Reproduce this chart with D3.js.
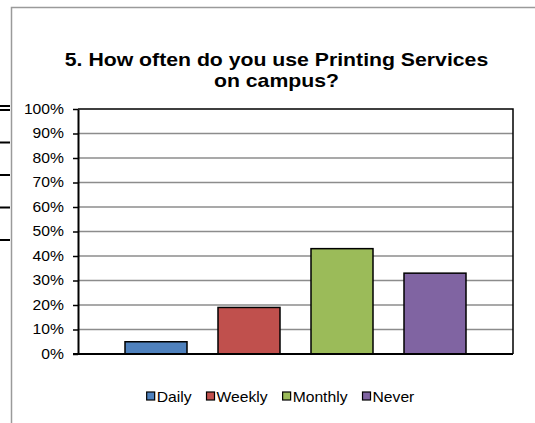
<!DOCTYPE html>
<html>
<head>
<meta charset="utf-8">
<script src="https://cdn.jsdelivr.net/npm/d3@7"></script>
<style>
  html, body { margin: 0; padding: 0; background: #fff; }
  svg { display: block; }
  text { font-family: "Liberation Sans", Arial, sans-serif; fill: #000; }
</style>
</head>
<body>
<svg id="chart" width="535" height="423"></svg>
<script>
// ---- data ----
const categories = ["Daily", "Weekly", "Monthly", "Never"];
const values = [5, 19, 43, 33];
const colors = ["#4F81BD", "#C0504D", "#9BBB59", "#8064A2"];
const yTicks = [0, 10, 20, 30, 40, 50, 60, 70, 80, 90, 100];
const titleLines = ["5. How often do you use Printing Services", "on campus?"];
// gridline stubs of another chart partially hidden behind this one
const behindTicks = [0, 1, 2, 3, 4];

// ---- layout ----
const W = 535, H = 423;
const plot = { left: 78, right: 513, top: 109, bottom: 354 };

const svg = d3.select("#chart");
svg.append("rect").attr("width", W).attr("height", H).attr("fill", "#fff");

// stub lines from chart behind
const by = d3.scaleLinear().domain([0, 4]).range([110, 240]);
svg.append("g").selectAll("line").data(behindTicks).join("line")
  .attr("x1", 0).attr("x2", 10)
  .attr("y1", d => by(d)).attr("y2", d => by(d))
  .attr("stroke", "#000").attr("stroke-width", 2);
svg.append("line").attr("x1", 0).attr("x2", 10).attr("y1", 106).attr("y2", 106)
  .attr("stroke", "#000").attr("stroke-width", 2);

// chart area border (left + top visible)
svg.append("path")
  .attr("d", `M11.5,${H} V7.5 H${W}`)
  .attr("fill", "none").attr("stroke", "#9a9a9a").attr("stroke-width", 1.5);

function stext(g, x, y, str, opts = {}) {
  const s = opts.stretch || 1.12;
  const t = g.append("g").attr("transform", `translate(${x},${y}) scale(${s},1)`)
    .append("text").text(str)
    .attr("font-size", opts.size || 14)
    .attr("text-anchor", opts.anchor || "start");
  if (opts.bold) t.attr("font-weight", "bold");
  if (opts.baseline) t.attr("dominant-baseline", opts.baseline);
  return t;
}

// title
const titleG = svg.append("g");
const titleCx = 276.5;
stext(titleG, titleCx, 66, titleLines[0], { size: 18, stretch: 1.18, anchor: "middle", bold: true });
stext(titleG, titleCx, 87, titleLines[1], { size: 18, stretch: 1.18, anchor: "middle", bold: true });

// scales
const y = d3.scaleLinear().domain([0, 100]).range([plot.bottom, plot.top]);
const x = d3.scaleBand().domain(categories).range([109.5, 481.5])
  .paddingInner(1 / 3).paddingOuter(1 / 6);

// gridlines
svg.append("g").selectAll("line").data(yTicks.filter(d => d > 0 && d < 100)).join("line")
  .attr("x1", plot.left).attr("x2", plot.right)
  .attr("y1", d => y(d)).attr("y2", d => y(d))
  .attr("stroke", "#8c8c8c").attr("stroke-width", 1.5);

// plot frame (top + right)
svg.append("path")
  .attr("d", `M${plot.left},${plot.top} H${plot.right} V${plot.bottom}`)
  .attr("fill", "none").attr("stroke", "#000").attr("stroke-width", 1.5);

// bars
svg.append("g").selectAll("rect").data(values).join("rect")
  .attr("x", (d, i) => x(categories[i]))
  .attr("width", x.bandwidth())
  .attr("y", d => y(d))
  .attr("height", d => y(0) - y(d))
  .attr("fill", (d, i) => colors[i])
  .attr("stroke", "#000").attr("stroke-width", 1.5);

// y axis
const yAxis = svg.append("g").attr("transform", `translate(${plot.left},0)`)
  .call(d3.axisLeft(y).tickValues(yTicks).tickSize(5).tickSizeOuter(0).tickFormat(""));
yAxis.select(".domain").attr("stroke", "#000").attr("stroke-width", 2);
yAxis.selectAll(".tick line").attr("stroke", "#000").attr("stroke-width", 1.5);

const labG = svg.append("g");
yTicks.forEach(v => stext(labG, 64, y(v), v + "%", { anchor: "end", baseline: "central" }));

// x axis line
svg.append("line").attr("x1", plot.left - 5).attr("x2", plot.right)
  .attr("y1", y(0)).attr("y2", y(0))
  .attr("stroke", "#000").attr("stroke-width", 2);

// legend
const legG = svg.append("g");
const box = 8, gap = 2, spacing = 15, legY = 402, S = 1.12;
const items = categories.map((c, i) => {
  const g = legG.append("g");
  const r = g.append("rect").attr("width", box).attr("height", box)
    .attr("fill", colors[i]).attr("stroke", "#000").attr("stroke-width", 1.2);
  const t = stext(g, 0, legY, c);
  return { g, r, t, w: t.node().getComputedTextLength() * S };
});
const total = d3.sum(items, d => box + gap + d.w) + spacing * (items.length - 1);
let cx = 280.5 - total / 2;
items.forEach(it => {
  it.r.attr("x", cx).attr("y", legY - 10);
  it.t.node().parentNode.setAttribute("transform", `translate(${cx + box + gap},${legY}) scale(${S},1)`);
  cx += box + gap + it.w + spacing;
});
</script>
</body>
</html>
